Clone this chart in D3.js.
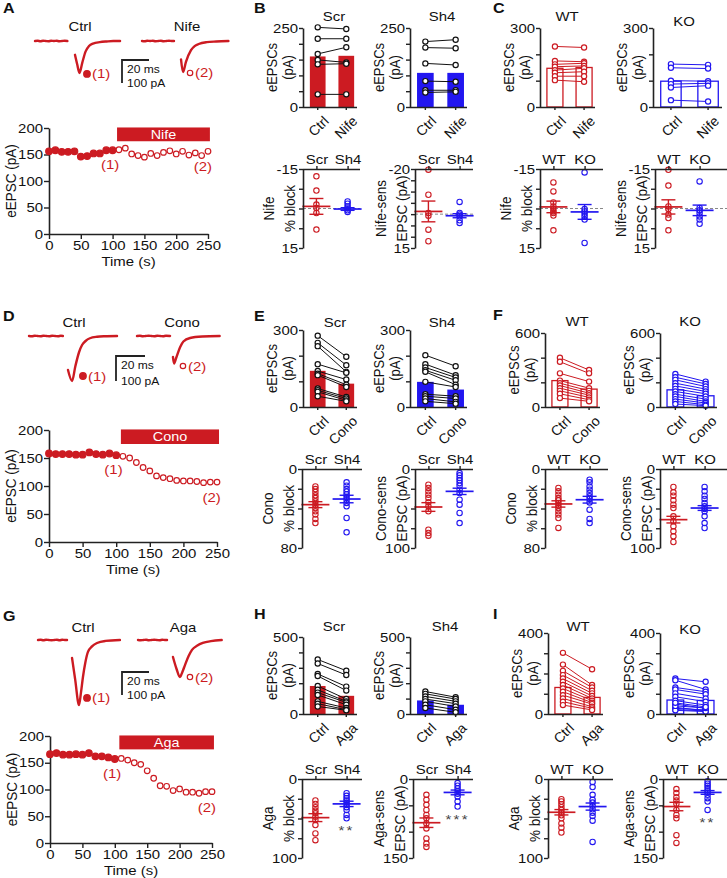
<!DOCTYPE html>
<html><head><meta charset="utf-8">
<script src="https://cdn.jsdelivr.net/npm/d3@7/dist/d3.min.js"></script>
<style>html,body{margin:0;padding:0;background:#fff}svg{display:block}</style>
</head><body>
<svg id="fig" width="727" height="878" xmlns="http://www.w3.org/2000/svg"></svg>
<script>
const FONT='"Liberation Sans", Arial, Helvetica, sans-serif';
const RED="#cc1b22", BLUE="#2216f0", INK="#111";
const SX=1.15;

// ---------- time courses ----------
const time=[0,10,20,30,40,50,60,70,80,90,100,110,120,130,140,150,160,170,180,190,200,210,220,230,240,250];
const timeTicks=[0,50,100,150,200,250];
const tcYTicks=[0,50,100,150,200];
const nifeTC=[156,158,155,155,156,146,147,152,152,158,158,159,162,151,148,145,152,148,154,157,151,156,149,153,148,156];
const conoTC=[158,157,157,157,156,156,160,157,156,158,155,153,150,142,133,127,118,115,113,110,109,109,108,106,107,107];
const agaTC=[166,168,165,165,166,165,168,162,162,160,157,158,155,150,147,135,121,107,106,98,101,95,95,93,96,96];
const drugOn=[107,253];
const drugBarLevels=[175,201];

// ---------- example traces [ms, pA] ----------
const nifeCtrlBase=[[0,0],[2,1],[4,-1],[6,1],[8,0],[10,-1],[12,1],[14,0],[16,1],[18,-1],[20,0],[22,1],[24,0]];
const nifeCtrlResp=[[29.6,-60],[31.2,-100],[33,-139],[35,-95],[37.5,-45],[40,-22],[43,-11],[48,-5],[53,-2],[58,0],[63,0]];
const nifeDrugBase=[[0,0],[2,-1],[4,1],[6,0],[8,1],[10,-1],[12,0],[14,1],[16,-1],[18,0],[20,1],[22,0],[23.7,0]];
const nifeDrugResp=[[28.9,-80],[30.4,-135],[32.5,-92],[36.3,-40],[39,-22],[42,-13],[48,-5],[55,-2],[64,0]];
const conoCtrlBase=[[0,0],[2,-1],[4,1],[6,0],[8,-1],[10,1],[12,0],[14,-1],[16,1],[18,0],[20,-1],[22,1],[23.4,0]];
const conoCtrlResp=[[26.9,-136],[29.7,-180],[32,-120],[34.5,-65],[36.6,-36],[39,-20],[42,-9],[47,-3],[52,-1],[60.7,0]];
const conoDrugBase=[[0,0],[2,1],[4,-1],[6,0],[8,1],[10,0],[12,-1],[14,1],[16,0],[18,-1],[20,1],[22.8,0]];
const conoDrugResp=[[24.8,-84],[25.6,-110],[27,-88],[29.7,-45],[32,-22],[36.6,-8],[45,-2],[57,0]];
const agaCtrlBase=[[0,0],[2,1],[4,-1],[6,1],[8,0],[10,-1],[12,0],[14,1],[16,-1],[18,1],[20,0],[21.5,0]];
const agaCtrlResp=[[25.2,-78],[27.5,-170],[30.4,-283],[31.8,-230],[33.3,-161],[35,-100],[37,-52],[40,-28],[43.7,-13],[50,-4],[60.7,0]];
const agaDrugBase=[[0,0],[2,-1],[4,0],[6,1],[8,-1],[10,0],[12,1],[14,0],[16,-1],[18,1],[20,0],[21.5,0]];
const agaDrugResp=[[25.9,-74],[28.5,-125],[31.1,-161],[32.8,-140],[34.8,-109],[37.5,-70],[40,-43],[44,-24],[48,-13],[54,-5],[62,0]];

// ---------- paired eEPSC values (pA) ----------
const bScrCtrl=[252,216,168,149,135,40], bScrNife=[247,216,189,141,137,40], bScrBars=[160,162];
const bSh4Ctrl=[207,188,138,82,53,46], bSh4Nife=[213,186,133,80,53,48], bSh4Bars=[108,108];
const cWtCtrl=[230,175,162,153,140,130,117,102], cWtNife=[226,172,166,156,147,134,117,96], cWtBars=[147,150];
const cKoCtrl=[163,149,100,87,74,26], cKoNife=[160,146,98,90,81,21], cKoBars=[98,98];
const eScrCtrl=[278,250,237,167,140,130,124,72,65,59,42], eScrCono=[196,163,137,133,107,87,78,39,33,26,22], eScrBars=[141,91];
const eSh4Ctrl=[202,167,154,143,137,98,50,42,33,22], eSh4Cono=[159,124,115,104,87,78,42,33,20,13], eSh4Bars=[98,68];
const fWtCtrl=[399,367,273,214,193,174,153,131,107,72], fWtCono=[300,273,206,153,131,112,96,78,59,46], fWtBars=[214,145];
const fKoCtrl=[268,241,220,193,171,147,126,104,86,64,45,24], fKoCono=[206,187,166,145,126,107,86,64,45,32,19,11], fKoBars=[139,91];
const hScrCtrl=[354,328,260,247,182,157,139,124,82,67,49], hScrAga=[281,253,178,152,97,82,75,60,39,28,24], hScrBars=[182,118];
const hSh4Ctrl=[146,131,114,97,82,60,39], hSh4Aga=[109,97,82,67,49,28,11], hSh4Bars=[88,60];
const iWtCtrl=[302,244,213,192,175,159,143,126,110,93,77,61,44], iWtAga=[221,143,131,115,102,89,77,66,56,49,36,28,20], iWtBars=[131,82];
const iKoCtrl=[175,167,131,121,102,85,66,49,33,28,22,18,40,55], iKoAga=[159,121,110,98,77,61,44,28,16,20,15,12,30,35], iKoBars=[69,67];

// ---------- scatter values ----------
const bBlockScr=[-12.2,-6.8,-1.5,-0.2,1.7,8.0], bBlockSh4=[-2.7,-1.8,-0.8,0,0.7,1.3];
const bBlockMean=[-0.8,0.2], bBlockSem=[3,0.5];
const bSensScr=[-19.7,-8.6,-0.5,0.7,6.9,12], bSensSh4=[-5.4,-0.5,0.2,1.0,2.7,3.9];
const bSensMean=[-1.2,0.7], bSensSem=[4.6,0.9];
const cBlockWt=[-9.9,-6.5,-2.3,-0.8,0.2,1.1,1.7,2.7,8.3], cBlockKo=[-13.7,0.2,1.1,2.0,3.0,4.2,13.1];
const cBlockMean=[-0.6,1.3], cBlockSem=[2.2,2.8];
const cSensWt=[-14.7,-8.7,-0.8,0.2,2.3,3.6,8.3], cSensKo=[-10.3,-0.2,0.7,1.7,3.0,4.2,5.8];
const cSensMean=[-0.6,0.7], cSensSem=[2.7,2];
const eBlockScr=[17.6,20.3,23.3,26.7,29.4,32.7,36.1,39.5,42.9,46.2,50.6,54.7], eBlockSh4=[13.5,16.9,20.3,23,25.7,28.4,31.1,34.4,37.8,49.6,64.1];
const eBlockMean=[36.1,30.4], eBlockSem=[3,3.8];
const eSensScr=[19.8,24,28.3,32.5,36.7,42.2,47.3,53.6,76.8,81,84.4], eSensSh4=[5.1,8,11.4,14.3,17.7,21.1,26.2,30.4,38.8,45.1,55.7,68.4];
const eSensMean=[48.1,28.3], eSensSem=[5.5,4];
const fBlockWt=[19.2,22.6,26,29.4,31.7,34.4,37.1,39.5,42.9,46.2,49.6,59.7], fBlockKo=[10.8,13.5,17.6,20.9,24.3,27.7,30.4,33.8,41.2,50.6,54.7];
const fBlockMean=[35.4,31.1], fBlockSem=[3.2,3.4];
const fSensWt=[22.8,29.5,33.8,39.7,45.1,49.4,59.9,66.2,72.6,78.9,85.2,92.4], fSensKo=[22.8,28.3,33.8,38,43,47.3,50.6,53.6,59.9,68.4,74.7];
const fSensMean=[64.1,49.4], fSensSem=[4.2,3];
const hBlockScr=[27.2,31.5,35.7,40,43.4,47.7,51.9,58.3,68.9,77.4], hBlockSh4=[17.9,21.3,24.3,27.2,29.8,32.8,35.7,39.1,45.5,49.8];
const hBlockMean=[48.9,31.5], hBlockSem=[5,3.4];
const hSensScr=[30,39.6,49.1,58.7,68.3,74.7,84.3,93.8,113,122.6,129], hSensSh4=[7.7,12.8,17.9,23,28.1,33.2,42.8,52.3];
const hSensMean=[83,25.5], hSensSem=[9,4.5];
const iBlockWt=[25.5,28.5,31.9,35.7,39.1,42.6,46,49.8,56.2,61.7,67.7], iBlockKo=[3.8,10.2,20,26.4,29.8,34,38.3,42.6,46.8,52.8,79.6];
const iBlockMean=[42.1,34.9], iBlockSem=[3.4,4.5];
const iSensWt=[19.1,26.8,34.5,40.9,47.2,58.7,68.3,74.7,106.6,121.3], iSensKo=[4.5,8.9,12.8,17.2,21.7,25.5,30,36.4,42.8,58.7];
const iSensMean=[52.3,25.5], iSensSem=[8,3.5];

// ================= drawing helpers =================
const svg=d3.select("#fig");
svg.append("rect").attr("width",727).attr("height",878).attr("fill","#fff");

function T(g,x,y,s,o={}){
  const t=g.append("text")
    .attr("transform",`translate(${x},${y}) scale(${SX},1)`+(o.rot!==undefined?` rotate(${o.rot})`:""))
    .attr("font-family",FONT).attr("font-size",o.size||12)
    .attr("text-anchor",o.anchor||"middle").attr("fill",o.fill||INK).text(s);
  if(o.bold)t.attr("font-weight","bold");
  if(o.dy)t.attr("dy",o.dy);
  if(o.ls)t.attr("letter-spacing",o.ls);
  return t;
}
function styleAxis(sel,size){
  sel.attr("font-family",null).attr("font-size",null);
  sel.select(".domain").attr("stroke","#222").attr("stroke-width",1.6);
  sel.selectAll(".tick line").attr("stroke","#222").attr("stroke-width",1.4);
  sel.selectAll(".tick text").attr("font-size",size).attr("fill",INK).attr("font-family",FONT)
    .each(function(){const t=d3.select(this);const x=+t.attr("x")||0, y=+t.attr("y")||0;
      t.attr("x",null).attr("y",null).attr("transform",`translate(${x},${y}) scale(${SX},1)`);});
}

function timecourse(c){
  const g=svg.append("g");
  const x=d3.scaleLinear().domain([0,250]).range([c.x0,c.x1]);
  const y=d3.scaleLinear().domain([0,200]).range([c.yb,c.yt]);
  g.append("rect").attr("x",x(drugOn[0])).attr("width",x(drugOn[1])-x(drugOn[0]))
    .attr("y",y(drugBarLevels[1])).attr("height",y(drugBarLevels[0])-y(drugBarLevels[1])).attr("fill",RED);
  T(g,(x(drugOn[0])+x(drugOn[1]))/2,y((drugBarLevels[0]+drugBarLevels[1])/2),c.drug,{size:12.5,fill:"#fff",dy:"0.36em"});
  const ax=g.append("g").attr("transform",`translate(0,${c.yb})`)
    .call(d3.axisBottom(x).tickValues(timeTicks).tickSize(5).tickSizeOuter(0).tickPadding(2));
  styleAxis(ax,13);
  const ay=g.append("g").attr("transform",`translate(${c.x0},0)`)
    .call(d3.axisLeft(y).tickValues(tcYTicks).tickSize(5).tickSizeOuter(0).tickPadding(1));
  styleAxis(ay,13);
  g.selectAll(null).data(time).join("circle")
    .attr("cx",d=>x(d)).attr("cy",(d,i)=>y(c.vals[i]))
    .attr("r",d=>d<=100?3.3:2.8).attr("fill",d=>d<=100?RED:"#fff").attr("stroke",RED).attr("stroke-width",1.2);
  T(g,x(96),y(c.vals[10])+19,"(1)",{size:13,fill:RED});
  T(g,x(242),y(c.vals[25])+20,"(2)",{size:13,fill:RED});
  T(g,(c.x0+c.x1)/2,c.yb+32,"Time (s)",{size:13});
  T(g,c.x0-38,(c.yt+c.yb)/2,"eEPSC (pA)",{size:13.5,rot:-90,dy:"0.35em"});
}

function traces(c){
  const g=svg.append("g");
  const yS=d3.scaleLinear().domain([0,-100]).range([c.base,c.base+c.pa100]);
  c.items.forEach(it=>{
    const xS=d3.scaleLinear().domain([0,20]).range([it.x0,it.x0+c.ms20]);
    const line=d3.line().x(d=>xS(d[0])).y(d=>yS(d[1])).curve(d3.curveMonotoneX);
    [it.base,it.resp].forEach(arr=>g.append("path").attr("d",line(arr)).attr("fill","none")
      .attr("stroke",RED).attr("stroke-width",2.4).attr("stroke-linejoin","round").attr("stroke-linecap","round"));
    const mx=xS(it.mark[0]), my=yS(it.mark[1]);
    g.append("circle").attr("cx",mx).attr("cy",my).attr("r",it.filled?3.3:2.7)
      .attr("fill",it.filled?RED:"#fff").attr("stroke",RED).attr("stroke-width",1.2);
    T(g,mx+5,my+4.5,it.num,{size:13,fill:RED,anchor:"start"});
    T(g,it.x0+45,c.labelY,it.label,{size:13});
  });
  g.append("path").attr("d",`M${c.sbx+c.ms20},${c.sbTop}H${c.sbx}V${c.sbTop+c.pa100}`)
    .attr("fill","none").attr("stroke","#222").attr("stroke-width",1.8);
  T(g,c.sbx+5,c.sbTop+13,"20 ms",{size:10.5,anchor:"start"});
  T(g,c.sbx+5,c.sbTop+c.pa100+4,"100 pA",{size:10.5,anchor:"start"});
}

function paired(c){
  const g=svg.append("g");
  const y=d3.scaleLinear().domain([0,c.max]).range([c.yb,c.yt]);
  const x=d3.scaleBand().domain(c.cats).range([c.x0+4,c.x1]).paddingInner(0.45).paddingOuter(0.1);
  const cx=d=>x(d)+x.bandwidth()/2;
  g.selectAll(null).data(c.cats).join("rect")
    .attr("x",d=>x(d)).attr("width",x.bandwidth())
    .attr("y",(d,i)=>y(c.bars[i])).attr("height",(d,i)=>c.yb-y(c.bars[i]))
    .attr("fill",c.solid?c.color:"none").attr("stroke",c.solid?"none":c.color).attr("stroke-width",1.3);
  const lc=c.solid?"#111":c.color;
  const pairs=c.a.map((v,i)=>[v,c.b[i]]);
  g.selectAll(null).data(pairs).join("line")
    .attr("x1",cx(c.cats[0])).attr("x2",cx(c.cats[1])).attr("y1",d=>y(d[0])).attr("y2",d=>y(d[1]))
    .attr("stroke",lc).attr("stroke-width",1);
  [c.a,c.b].forEach((arr,k)=>{
    g.selectAll(null).data(arr).join("circle").attr("cx",cx(c.cats[k])).attr("cy",d=>y(d))
      .attr("r",2.6).attr("fill","#fff").attr("stroke",lc).attr("stroke-width",1.2);
  });
  const ya=g.append("g").attr("transform",`translate(${c.x0},0)`)
    .call(d3.axisLeft(y).tickValues(d3.range(0,c.max+1,c.step)).tickSize(4).tickSizeOuter(0).tickPadding(1)
    .tickFormat(d=>(d===0||d===c.max)?String(d):""));
  styleAxis(ya,13);
  const xa=g.append("g").attr("transform",`translate(0,${c.yb})`)
    .call(d3.axisBottom(x).tickSize(3).tickSizeOuter(0).tickFormat(()=>""));
  styleAxis(xa,13);
  xa.select(".domain").attr("d",`M${c.x0},0.5H${c.x1}`);
  // rotated category labels (plain rotate about the anchor point)
  c.cats.forEach(cat=>{
    const lx=cx(cat)+5, ly=c.yb+8;
    g.append("text").attr("x",lx).attr("y",ly).attr("dy","0.7em")
      .attr("transform",`rotate(-45 ${lx} ${ly})`)
      .attr("text-anchor","end").attr("font-family",FONT).attr("font-size",14).attr("fill",INK).text(cat);
  });
  T(g,c.tx,c.ty,c.title,{size:13});
  const cy=(c.yt+c.yb)/2;
  T(g,c.x0-31,cy,"eEPSCs",{size:13,rot:-90,dy:"0.35em"});
  T(g,c.x0-15,cy,"(pA)",{size:13,rot:-90,dy:"0.35em"});
}

function scatter(c){
  const g=svg.append("g");
  const y=d3.scaleLinear().domain(c.dom).range([c.yt,c.yb]);
  const x=d3.scalePoint().domain(c.groups).range([c.x0,c.x0+58]).padding(0.43);
  if(c.zero){
    g.append("line").attr("x1",c.x0).attr("x2",c.x1).attr("y1",y(0)).attr("y2",y(0))
      .attr("stroke","#888").attr("stroke-width",1).attr("stroke-dasharray","3,2");
  }
  c.groups.forEach((gr,k)=>{
    const col=c.colors[k], px=x(gr), m=c.means[k], s=c.sems[k];
    g.selectAll(null).data(c.pts[k]).join("circle").attr("cx",px).attr("cy",d=>y(d))
      .attr("r",2.7).attr("fill","none").attr("stroke",col).attr("stroke-width",1.1);
    const L=(x1,y1,x2,y2,w)=>g.append("line").attr("x1",x1).attr("y1",y1).attr("x2",x2).attr("y2",y2)
      .attr("stroke",col).attr("stroke-width",w);
    L(px-14,y(m),px+14,y(m),1.7);
    L(px,y(m-s),px,y(m+s),1.4);
    L(px-7,y(m-s),px+7,y(m-s),1.4);
    L(px-7,y(m+s),px+7,y(m+s),1.4);
    if(c.stars&&c.stars[k]){
      T(g,px,y(d3.max(c.pts[k]))+17,c.stars[k],{size:13,fill:"#444",ls:"2"});
    }
  });
  const dom=c.dom;
  const ya=g.append("g").attr("transform",`translate(${c.x0},0)`)
    .call(d3.axisLeft(y).tickValues(d3.range(dom[0],dom[1]+0.001,c.step)).tickSize(4).tickSizeOuter(0).tickPadding(1)
    .tickFormat(d=>(d===dom[0]||d===dom[1])?String(d):""));
  styleAxis(ya,13);
  const xa=g.append("g").attr("transform",`translate(0,${c.yt})`)
    .call(d3.axisTop(x).tickSize(3).tickSizeOuter(0).tickPadding(2));
  styleAxis(xa,13);
  xa.select(".domain").attr("d",`M${c.x0},0.5H${c.x1}`);
  const cy=(c.yt+c.yb)/2;
  T(g,c.x0-34,cy,c.yl[0],{size:13.5,rot:-90,dy:"0.35em"});
  T(g,c.x0-13,cy,c.yl[1],{size:13.5,rot:-90,dy:"0.35em"});
}

// ================= panel letters =================
[["A",3,13],["B",254,13],["C",493,13],["D",3,321],["E",254,321],["F",493,320],["G",3,621],["H",254,619],["I",493,619]]
  .forEach(([s,x,y])=>T(svg,x,y,s,{size:14,bold:true,anchor:"start"}));

// ================= row 1 =================
traces({base:41,ms20:27,pa100:23,sbx:122,sbTop:60,labelY:31,items:[
  {x0:35,base:nifeCtrlBase,resp:nifeCtrlResp,mark:[38.5,-143],filled:true,num:"(1)",label:"Ctrl"},
  {x0:142,base:nifeDrugBase,resp:nifeDrugResp,mark:[35.6,-139],filled:false,num:"(2)",label:"Nife"}]});
timecourse({x0:49,x1:208,yt:128,yb:234,vals:nifeTC,drug:"Nife"});

paired({x0:303,x1:357,yt:28,yb:107,max:250,step:50,cats:["Ctrl","Nife"],bars:bScrBars,a:bScrCtrl,b:bScrNife,solid:true,color:RED,title:"Scr",tx:334,ty:21});
paired({x0:410,x1:467,yt:28,yb:107,max:250,step:50,cats:["Ctrl","Nife"],bars:bSh4Bars,a:bSh4Ctrl,b:bSh4Nife,solid:true,color:BLUE,title:"Sh4",tx:442,ty:21});
paired({x0:540,x1:595,yt:28,yb:107,max:300,step:100,cats:["Ctrl","Nife"],bars:cWtBars,a:cWtCtrl,b:cWtNife,solid:false,color:RED,title:"WT",tx:567,ty:21});
paired({x0:653,x1:722,yt:28,yb:107,max:300,step:100,cats:["Ctrl","Nife"],bars:cKoBars,a:cKoCtrl,b:cKoNife,solid:false,color:BLUE,title:"KO",tx:684,ty:26});

scatter({x0:303,x1:360,yt:169,yb:248,dom:[-15,15],step:7.5,groups:["Scr","Sh4"],colors:[RED,BLUE],pts:[bBlockScr,bBlockSh4],means:bBlockMean,sems:bBlockSem,zero:true,yl:["Nife","% block"]});
scatter({x0:415,x1:473,yt:169,yb:248,dom:[-20,15],step:5,groups:["Scr","Sh4"],colors:[RED,BLUE],pts:[bSensScr,bSensSh4],means:bSensMean,sems:bSensSem,zero:true,yl:["Nife-sens","EPSC (pA)"]});
scatter({x0:540,x1:603,yt:169,yb:248,dom:[-15,15],step:7.5,groups:["WT","KO"],colors:[RED,BLUE],pts:[cBlockWt,cBlockKo],means:cBlockMean,sems:cBlockSem,zero:true,yl:["Nife","% block"]});
scatter({x0:655,x1:727,yt:169,yb:248,dom:[-15,15],step:7.5,groups:["WT","KO"],colors:[RED,BLUE],pts:[cSensWt,cSensKo],means:cSensMean,sems:cSensSem,zero:true,yl:["Nife-sens","EPSC (pA)"]});

// ================= row 2 =================
traces({base:336,ms20:29,pa100:25,sbx:116,sbTop:356,labelY:327,items:[
  {x0:29,base:conoCtrlBase,resp:conoCtrlResp,mark:[37.2,-160],filled:true,num:"(1)",label:"Ctrl"},
  {x0:137,base:conoDrugBase,resp:conoDrugResp,mark:[31.7,-120],filled:false,num:"(2)",label:"Cono"}]});
timecourse({x0:49,x1:217,yt:430,yb:542,vals:conoTC,drug:"Cono"});

paired({x0:303,x1:357,yt:330,yb:407,max:300,step:100,cats:["Ctrl","Cono"],bars:eScrBars,a:eScrCtrl,b:eScrCono,solid:true,color:RED,title:"Scr",tx:335,ty:327});
paired({x0:410,x1:467,yt:330,yb:407,max:300,step:100,cats:["Ctrl","Cono"],bars:eSh4Bars,a:eSh4Ctrl,b:eSh4Cono,solid:true,color:BLUE,title:"Sh4",tx:442,ty:327});
paired({x0:545,x1:600,yt:333,yb:407,max:600,step:200,cats:["Ctrl","Cono"],bars:fWtBars,a:fWtCtrl,b:fWtCono,solid:false,color:RED,title:"WT",tx:577,ty:326});
paired({x0:660,x1:717,yt:333,yb:407,max:600,step:200,cats:["Ctrl","Cono"],bars:fKoBars,a:fKoCtrl,b:fKoCono,solid:false,color:BLUE,title:"KO",tx:690,ty:326});

scatter({x0:302,x1:362,yt:469,yb:548,dom:[0,80],step:20,groups:["Scr","Sh4"],colors:[RED,BLUE],pts:[eBlockScr,eBlockSh4],means:eBlockMean,sems:eBlockSem,yl:["Cono","% block"]});
scatter({x0:415,x1:473,yt:469,yb:548,dom:[0,100],step:25,groups:["Scr","Sh4"],colors:[RED,BLUE],pts:[eSensScr,eSensSh4],means:eSensMean,sems:eSensSem,yl:["Cono-sens","EPSC (pA)"]});
scatter({x0:545,x1:608,yt:469,yb:548,dom:[0,80],step:20,groups:["WT","KO"],colors:[RED,BLUE],pts:[fBlockWt,fBlockKo],means:fBlockMean,sems:fBlockSem,yl:["Cono","% block"]});
scatter({x0:660,x1:727,yt:469,yb:548,dom:[0,100],step:25,groups:["WT","KO"],colors:[RED,BLUE],pts:[fSensWt,fSensKo],means:fSensMean,sems:fSensSem,yl:["Cono-sens","EPSC (pA)"]});

// ================= row 3 =================
traces({base:640,ms20:27,pa100:23,sbx:122,sbTop:672,labelY:632,items:[
  {x0:38,base:agaCtrlBase,resp:agaCtrlResp,mark:[36.3,-252],filled:true,num:"(1)",label:"Ctrl"},
  {x0:138,base:agaDrugBase,resp:agaDrugResp,mark:[38.5,-161],filled:false,num:"(2)",label:"Aga"}]});
timecourse({x0:50,x1:212,yt:736,yb:843,vals:agaTC,drug:"Aga"});

paired({x0:303,x1:357,yt:637,yb:714,max:500,step:100,cats:["Ctrl","Aga"],bars:hScrBars,a:hScrCtrl,b:hScrAga,solid:true,color:RED,title:"Scr",tx:334,ty:631});
paired({x0:410,x1:467,yt:637,yb:714,max:500,step:100,cats:["Ctrl","Aga"],bars:hSh4Bars,a:hSh4Ctrl,b:hSh4Aga,solid:true,color:BLUE,title:"Sh4",tx:445,ty:631});
paired({x0:548,x1:603,yt:633,yb:714,max:400,step:100,cats:["Ctrl","Aga"],bars:iWtBars,a:iWtCtrl,b:iWtAga,solid:false,color:RED,title:"WT",tx:578,ty:631});
paired({x0:660,x1:717,yt:633,yb:714,max:400,step:100,cats:["Ctrl","Aga"],bars:iKoBars,a:iKoCtrl,b:iKoAga,solid:false,color:BLUE,title:"KO",tx:690,ty:634});

scatter({x0:302,x1:362,yt:779,yb:858,dom:[0,100],step:25,groups:["Scr","Sh4"],colors:[RED,BLUE],pts:[hBlockScr,hBlockSh4],means:hBlockMean,sems:hBlockSem,yl:["Aga","% block"],stars:[null,"**"]});
scatter({x0:413,x1:473,yt:779,yb:858,dom:[0,150],step:50,groups:["Scr","Sh4"],colors:[RED,BLUE],pts:[hSensScr,hSensSh4],means:hSensMean,sems:hSensSem,yl:["Aga-sens","EPSC (pA)"],stars:[null,"***"]});
scatter({x0:548,x1:613,yt:779,yb:858,dom:[0,100],step:25,groups:["WT","KO"],colors:[RED,BLUE],pts:[iBlockWt,iBlockKo],means:iBlockMean,sems:iBlockSem,yl:["Aga","% block"]});
scatter({x0:663,x1:727,yt:779,yb:858,dom:[0,150],step:50,groups:["WT","KO"],colors:[RED,BLUE],pts:[iSensWt,iSensKo],means:iSensMean,sems:iSensSem,yl:["Aga-sens","EPSC (pA)"],stars:[null,"**"]});
</script>
</body></html>
